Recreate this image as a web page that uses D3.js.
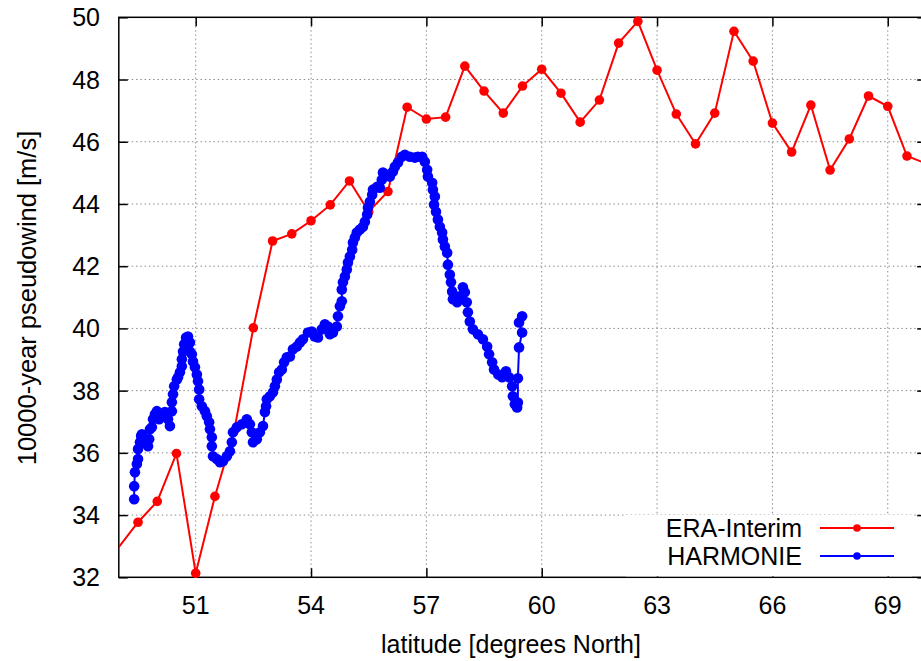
<!DOCTYPE html>
<html>
<head>
<meta charset="utf-8">
<script src="https://cdn.jsdelivr.net/npm/d3@7"></script>
<style>
	body { margin: 0; background: #fff; overflow: hidden; }
	svg { display: block; font-family: "Liberation Sans", Arial, sans-serif; }
</style>
</head>
<body>
<script>
// ERA-Interim, every half degree (first point lies left of the plot)
var eraLat = [48.5, 49.5, 50.0, 50.5, 51.0, 51.5, 52.0, 52.5, 53.0, 53.5, 54.0, 54.5, 55.0, 55.5, 56.0,
	56.5, 57.0, 57.5, 58.0, 58.5, 59.0, 59.5, 60.0, 60.5, 61.0, 61.5, 62.0, 62.5, 63.0, 63.5, 64.0,
	64.5, 65.0, 65.5, 66.0, 66.5, 67.0, 67.5, 68.0, 68.5, 69.0, 69.5, 70.0];
var eraWind = [32.17, 33.77, 34.44, 35.98, 32.13, 34.6, 36.7, 40.02, 42.81, 43.04, 43.46, 43.97, 44.74, 43.75, 44.4,
	47.11, 46.73, 46.79, 48.43, 47.63, 46.92, 47.79, 48.33, 47.56, 46.63, 47.34, 49.17, 49.87, 48.3, 46.89, 45.93,
	46.92, 49.55, 48.59, 46.6, 45.67, 47.18, 45.09, 46.09, 47.47, 47.14, 45.54, 45.3];

// HARMONIE
var harmLat = [49.40, 49.40, 49.42, 49.47, 49.50, 49.50, 49.55, 49.58, 49.60, 49.68, 49.76, 49.79, 49.81, 49.86, 49.89,
	49.94, 49.99, 50.05, 50.12, 50.20, 50.28, 50.33, 50.38, 50.38, 50.41, 50.44, 50.51, 50.54, 50.59, 50.64,
	50.64, 50.67, 50.70, 50.75, 50.80, 50.85, 50.85, 50.90, 50.93, 50.98, 51.03, 51.06, 51.09, 51.09, 51.16,
	51.24, 51.29, 51.35, 51.37, 51.42, 51.42, 51.45, 51.55, 51.63, 51.71, 51.81, 51.89, 51.94, 51.97, 52.07,
	52.20, 52.33, 52.41, 52.46, 52.49, 52.59, 52.67, 52.75, 52.80, 52.83, 52.85, 52.93, 53.01, 53.06, 53.11,
	53.17, 53.24, 53.30, 53.37, 53.45, 53.53, 53.63, 53.71, 53.79, 53.92, 54.02, 54.10, 54.18, 54.28, 54.36,
	54.44, 54.49, 54.57, 54.67, 54.70, 54.75, 54.80, 54.80, 54.83, 54.88, 54.93, 54.96, 55.01, 55.07, 55.09,
	55.14, 55.19, 55.27, 55.35, 55.40, 55.46, 55.48, 55.53, 55.59, 55.61, 55.72, 55.79, 55.84, 55.87, 55.97,
	56.05, 56.13, 56.18, 56.26, 56.36, 56.44, 56.57, 56.70, 56.78, 56.89, 56.96, 57.02, 57.04, 57.15, 57.17,
	57.22, 57.20, 57.25, 57.30, 57.35, 57.41, 57.43, 57.48, 57.54, 57.56, 57.61, 57.64, 57.67, 57.69, 57.80,
	57.87, 57.95, 58.00, 58.05, 58.08, 58.13, 58.21, 58.34, 58.47, 58.58, 58.63, 58.71, 58.76, 58.87, 58.97,
	59.07, 59.15, 59.23, 59.25, 59.30, 59.36, 59.38, 59.38, 59.41, 59.49, 59.41, 59.49];
var harmWind = [34.51, 34.93, 35.38, 35.64, 35.80, 36.12, 36.34, 36.54, 36.60, 36.38, 36.21, 36.44, 36.76, 36.82, 37.08,
	37.24, 37.34, 37.08, 37.18, 37.31, 37.08, 36.86, 37.34, 37.63, 37.88, 38.14, 38.36, 38.43, 38.59, 38.78,
	39.01, 39.26, 39.49, 39.71, 39.74, 39.55, 39.26, 39.17, 38.94, 38.75, 38.52, 38.30, 38.04, 37.72, 37.50,
	37.34, 37.18, 36.98, 36.76, 36.50, 36.21, 35.89, 35.80, 35.70, 35.73, 35.89, 36.05, 36.34, 36.66, 36.82,
	36.92, 37.08, 36.92, 36.66, 36.34, 36.44, 36.66, 36.86, 37.31, 37.50, 37.72, 37.82, 37.95, 38.14, 38.36,
	38.59, 38.68, 38.91, 39.07, 39.10, 39.33, 39.42, 39.55, 39.65, 39.87, 39.90, 39.74, 39.71, 39.97, 40.13,
	40.06, 39.81, 39.87, 40.06, 40.39, 40.71, 40.87, 41.25, 41.48, 41.67, 41.89, 42.12, 42.31, 42.53, 42.76,
	42.92, 43.08, 43.18, 43.27, 43.43, 43.66, 43.88, 44.07, 44.30, 44.46, 44.55, 44.52, 44.78, 45.01, 44.94,
	44.88, 45.04, 45.20, 45.33, 45.52, 45.58, 45.52, 45.49, 45.52, 45.52, 45.36, 45.10, 44.88, 44.68, 44.46,
	44.24, 43.98, 43.75, 43.50, 43.27, 43.08, 42.86, 42.63, 42.43, 42.05, 41.73, 41.48, 41.19, 40.94, 40.84,
	41.03, 41.32, 41.16, 40.84, 40.52, 40.22, 39.97, 39.81, 39.65, 39.42, 39.17, 38.91, 38.68, 38.52, 38.43,
	38.62, 38.43, 38.14, 37.82, 37.56, 37.46, 37.62, 38.40, 39.39, 39.87, 40.19, 40.39];

var xTicks = [51, 54, 57, 60, 63, 66, 69];
var yTicks = [32, 34, 36, 38, 40, 42, 44, 46, 48, 50];
var seriesNames = ["ERA-Interim", "HARMONIE"];
var seriesColors = ["#ff0000", "#0000ff"];

var marginLeft = 118.8;
var marginTop = 17.3;
var plotRight = 926.2;
var plotBottom = 577.3;

var svg = d3
	.select("body")
	.append("svg")
	.attr("width", 921)
	.attr("height", 661);

var x = d3.scaleLinear().domain([49, 70]).range([marginLeft, plotRight]);
var y = d3.scaleLinear().domain([32, 50]).range([plotBottom, marginTop]);

svg.append("clipPath")
	.attr("id", "plot-clip")
	.append("rect")
	.attr("x", marginLeft)
	.attr("y", marginTop)
	.attr("width", plotRight - marginLeft)
	.attr("height", plotBottom - marginTop);

// dotted grid
svg.append("g")
	.selectAll("line")
	.data(xTicks)
	.join("line")
	.attr("x1", (d) => x(d))
	.attr("x2", (d) => x(d))
	.attr("y1", marginTop)
	.attr("y2", plotBottom)
	.style("stroke", "#8c8c8c")
	.style("stroke-width", 1)
	.style("stroke-dasharray", "1.5,2.8");

svg.append("g")
	.selectAll("line")
	.data(yTicks.slice(1, -1))
	.join("line")
	.attr("x1", marginLeft)
	.attr("x2", plotRight)
	.attr("y1", (d) => y(d))
	.attr("y2", (d) => y(d))
	.style("stroke", "#8c8c8c")
	.style("stroke-width", 1)
	.style("stroke-dasharray", "1.5,2.8");

// axes with inward ticks on all four sides
var tickLen = 9;
svg.append("g")
	.attr("transform", "translate(0," + plotBottom + ")")
	.call(d3.axisBottom(x).tickValues(xTicks).tickSize(-tickLen).tickFormat(""));
svg.append("g")
	.attr("transform", "translate(0," + marginTop + ")")
	.call(d3.axisTop(x).tickValues(xTicks).tickSize(-tickLen).tickFormat(""));
svg.append("g")
	.attr("transform", "translate(" + marginLeft + ",0)")
	.call(d3.axisLeft(y).tickValues(yTicks).tickSize(-tickLen).tickFormat(""));
svg.append("g")
	.attr("transform", "translate(" + plotRight + ",0)")
	.call(d3.axisRight(y).tickValues(yTicks).tickSize(-tickLen).tickFormat(""));
svg.selectAll(".domain").remove();
svg.selectAll(".tick line").style("stroke", "#000").style("stroke-width", 1.5);

svg.append("rect")
	.attr("x", marginLeft)
	.attr("y", marginTop)
	.attr("width", plotRight - marginLeft)
	.attr("height", plotBottom - marginTop)
	.style("fill", "none")
	.style("stroke", "#000")
	.style("stroke-width", 1.5);

// tick labels
svg.append("g")
	.selectAll("text")
	.data(xTicks)
	.join("text")
	.attr("x", (d) => x(d))
	.attr("y", 614)
	.attr("text-anchor", "middle")
	.style("font-size", "25px")
	.text((d) => d);

svg.append("g")
	.selectAll("text")
	.data(yTicks)
	.join("text")
	.attr("x", 100)
	.attr("y", (d) => y(d))
	.attr("dy", "0.36em")
	.attr("text-anchor", "end")
	.style("font-size", "25px")
	.text((d) => d);

svg.append("text")
	.attr("x", 511)
	.attr("y", 653)
	.attr("text-anchor", "middle")
	.style("font-size", "25px")
	.text("latitude [degrees North]");

svg.append("text")
	.attr("transform", "translate(36,298) rotate(-90)")
	.attr("text-anchor", "middle")
	.style("font-size", "25.5px")
	.text("10000-year pseudowind [m/s]");

// legend box hides the grid behind it
var legendX = 626;
var legendY = 515;
svg.append("rect")
	.attr("x", legendX)
	.attr("y", legendY)
	.attr("width", 286)
	.attr("height", plotBottom - legendY - 1)
	.style("fill", "#fff");

// series
var line = d3.line()
	.x((d) => x(d[0]))
	.y((d) => y(d[1]));

var series = [
	d3.zip(eraLat, eraWind),
	d3.zip(harmLat, harmWind)
];
var markerSize = [4.8, 5.3];

series.forEach((pts, i) => {
	var g = svg.append("g");
	g.append("path")
		.attr("clip-path", "url(#plot-clip)")
		.attr("d", line(pts))
		.style("fill", "none")
		.style("stroke", seriesColors[i])
		.style("stroke-width", 2);
	g.selectAll("circle")
		.data(pts.filter((d) => d[0] >= 49 && d[0] <= 70))
		.join("circle")
		.attr("cx", (d) => x(d[0]))
		.attr("cy", (d) => y(d[1]))
		.attr("r", markerSize[i])
		.style("fill", seriesColors[i]);
});

// legend entries
seriesNames.forEach((name, i) => {
	var ly = 528 + i * 28;
	svg.append("text")
		.attr("x", 802)
		.attr("y", ly)
		.attr("dy", "0.36em")
		.attr("text-anchor", "end")
		.style("font-size", "25px")
		.text(name);
	svg.append("line")
		.attr("x1", 820)
		.attr("x2", 894)
		.attr("y1", ly)
		.attr("y2", ly)
		.style("stroke", seriesColors[i])
		.style("stroke-width", 2);
	svg.append("circle")
		.attr("cx", 857)
		.attr("cy", ly)
		.attr("r", 3.8)
		.style("fill", seriesColors[i]);
});
</script>
</body>
</html>
